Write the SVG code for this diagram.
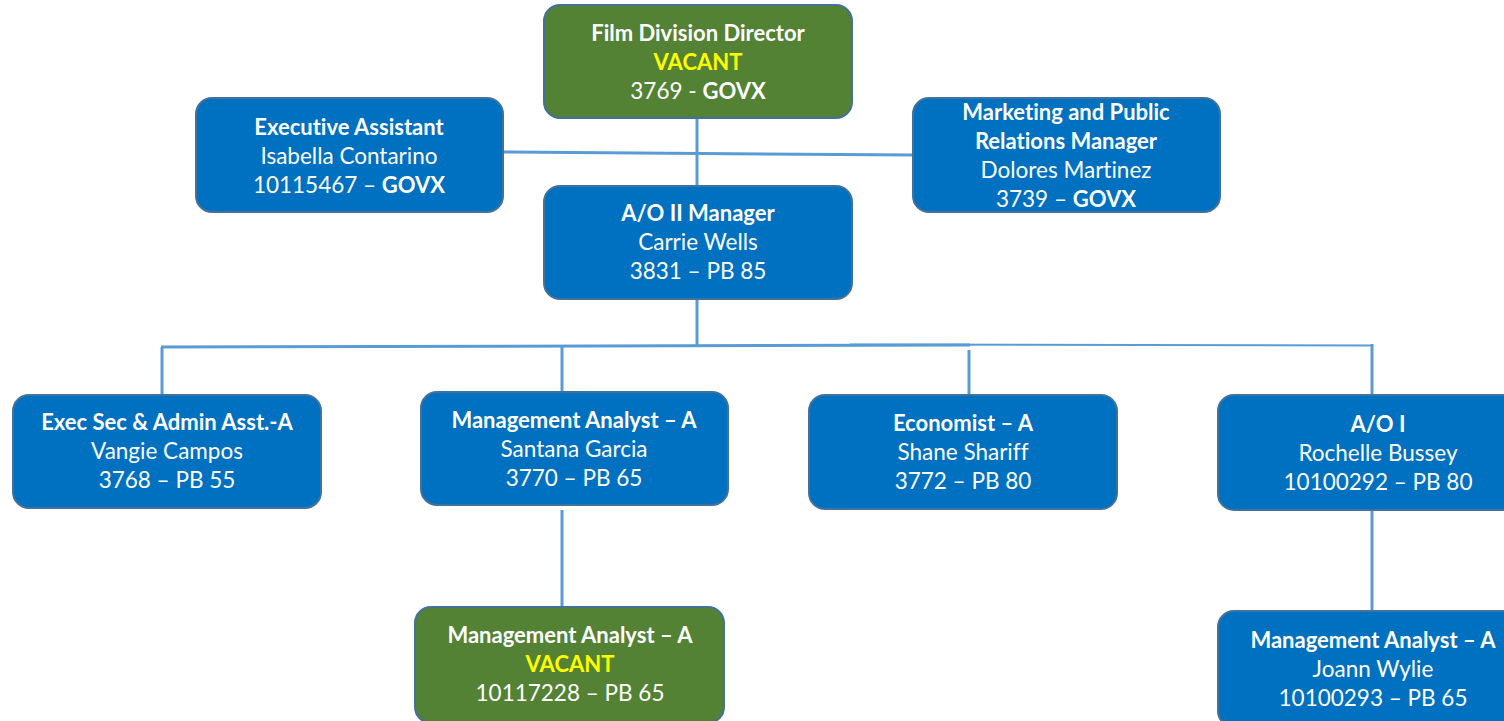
<svg xmlns="http://www.w3.org/2000/svg" width="1504" height="721" viewBox="0 0 1504 721">
  <style>
    .box { stroke: #41719C; stroke-width: 2; }
    .blue { fill: #0070C0; }
    .green { fill: #548235; }
    text { font-family: Lato, "Open Sans", sans-serif; font-size: 22.5px; fill: #FFFFFF; text-anchor: middle; font-variant-ligatures: none; }
    .b { font-weight: bold; font-size: 22px; }
    .y { fill: #FFFF00; font-weight: bold; font-size: 22px; }
    .conn { stroke: #5B9BD5; stroke-width: 3; fill: none; }
  </style>

  <!-- reporting lines -->
  <g id="connectors">
    <line class="conn" x1="697" y1="118" x2="697" y2="186"/>
    <line class="conn" x1="503" y1="152" x2="913" y2="155"/>
    <line class="conn" x1="697" y1="299" x2="697" y2="346"/>
    <line class="conn" x1="161" y1="347" x2="970" y2="345"/>
    <line class="conn" x1="850" y1="344.5" x2="1373" y2="345.5" style="stroke-width:2"/>
    <line class="conn" x1="162" y1="347" x2="162" y2="398"/>
    <line class="conn" x1="562" y1="347" x2="562" y2="396"/>
    <line class="conn" x1="969" y1="350" x2="969" y2="400"/>
    <line class="conn" x1="1372" y1="344" x2="1372" y2="396"/>
    <line class="conn" x1="562" y1="510" x2="562" y2="607"/>
    <line class="conn" x1="1372" y1="510" x2="1372" y2="611"/>
  </g>

  <g id="film-division-director">
    <rect class="box green" x="544" y="5" width="308" height="113" rx="16"/>
    <text x="698" y="41" class="b">Film Division Director</text>
    <text x="698" y="70" class="y">VACANT</text>
    <text x="698" y="99">3769 - <tspan class="b">GOVX</tspan></text>
  </g>

  <g id="executive-assistant">
    <rect class="box blue" x="196" y="98" width="307" height="114" rx="16"/>
    <text x="349" y="135" class="b">Executive Assistant</text>
    <text x="349" y="164">Isabella Contarino</text>
    <text x="349" y="193">10115467 – <tspan class="b">GOVX</tspan></text>
  </g>

  <g id="marketing-pr-manager">
    <rect class="box blue" x="913" y="98" width="307" height="114" rx="16"/>
    <text x="1066" y="120" class="b">Marketing and Public</text>
    <text x="1066" y="149" class="b">Relations Manager</text>
    <text x="1066" y="178">Dolores Martinez</text>
    <text x="1066" y="207">3739 – <tspan class="b">GOVX</tspan></text>
  </g>

  <g id="ao-ii-manager">
    <rect class="box blue" x="544" y="186" width="308" height="113" rx="16"/>
    <text x="698" y="221" class="b">A/O II Manager</text>
    <text x="698" y="250">Carrie Wells</text>
    <text x="698" y="279">3831 – PB 85</text>
  </g>

  <g id="exec-sec-admin">
    <rect class="box blue" x="13" y="395" width="308" height="113" rx="16"/>
    <text x="167" y="430" class="b">Exec Sec &amp; Admin Asst.-A</text>
    <text x="167" y="459">Vangie Campos</text>
    <text x="167" y="488">3768 – PB 55</text>
  </g>

  <g id="management-analyst-garcia">
    <rect class="box blue" x="421" y="392" width="307" height="113" rx="16"/>
    <text x="574" y="428" class="b">Management Analyst – A</text>
    <text x="574" y="457">Santana Garcia</text>
    <text x="574" y="486">3770 – PB 65</text>
  </g>

  <g id="economist">
    <rect class="box blue" x="809" y="395" width="308" height="114" rx="16"/>
    <text x="963" y="431" class="b">Economist – A</text>
    <text x="963" y="460">Shane Shariff</text>
    <text x="963" y="489">3772 – PB 80</text>
  </g>

  <g id="ao-i">
    <rect class="box blue" x="1218" y="395" width="310" height="115" rx="16"/>
    <text x="1378" y="432" class="b">A/O I</text>
    <text x="1378" y="461">Rochelle Bussey</text>
    <text x="1378" y="490">10100292 – PB 80</text>
  </g>

  <g id="management-analyst-vacant">
    <rect class="box green" x="415" y="607" width="309" height="116" rx="16"/>
    <text x="570" y="643" class="b">Management Analyst – A</text>
    <text x="570" y="672" class="y">VACANT</text>
    <text x="570" y="701">10117228 – PB 65</text>
  </g>

  <g id="management-analyst-wylie">
    <rect class="box blue" x="1218" y="611" width="310" height="116" rx="16"/>
    <text x="1373" y="648" class="b">Management Analyst – A</text>
    <text x="1373" y="677">Joann Wylie</text>
    <text x="1373" y="706">10100293 – PB 65</text>
  </g>
</svg>
